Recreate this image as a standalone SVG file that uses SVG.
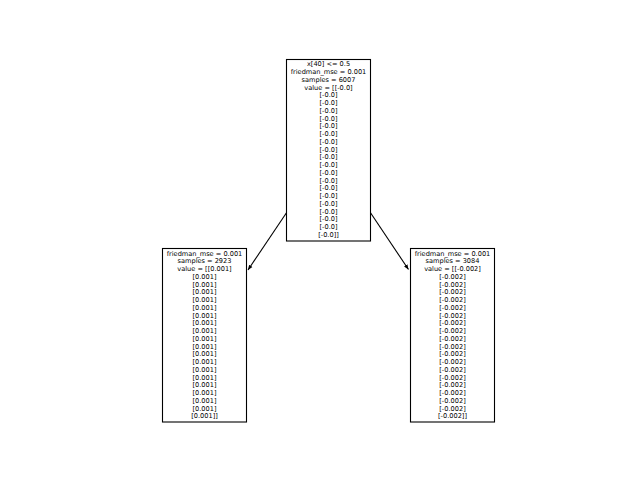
<svg xmlns="http://www.w3.org/2000/svg" width="640" height="480" viewBox="0 0 640 480">
<style>
.box{fill:#fff;stroke:#000;stroke-width:1.1}
.t{font-family:"DejaVu Sans",sans-serif;font-size:6.6px;fill:#000;text-anchor:middle;dominant-baseline:central}
.edge{stroke:#000;stroke-width:1.1;fill:none;marker-end:url(#ah)}
</style>
<defs>
<marker id="ah" viewBox="0 0 10 10" refX="10" refY="5" markerWidth="5" markerHeight="5" orient="auto" markerUnits="userSpaceOnUse">
<path d="M0,1 L10,5 L0,9 Z" fill="#000"/>
</marker>
</defs>
<rect width="640" height="480" fill="#fff"/>
<g id="connectors">
<line class="edge" x1="287" y1="212" x2="248" y2="270"/>
<line class="edge" x1="370" y1="212" x2="408.5" y2="269.5"/>
</g>
<g id="node0">
<rect class="box" x="286.5" y="59.5" width="84" height="181.5"/>
<text class="t" x="328.5" y="64.25">x[40] &lt;= 0.5</text>
<text class="t" x="328.5" y="72">friedman_mse = 0.001</text>
<text class="t" x="328.5" y="79.75">samples = 6007</text>
<text class="t" x="328.5" y="87.5">value = [[-0.0]</text>
<text class="t" x="328.5" y="95.25">[-0.0]</text>
<text class="t" x="328.5" y="103">[-0.0]</text>
<text class="t" x="328.5" y="110.75">[-0.0]</text>
<text class="t" x="328.5" y="118.5">[-0.0]</text>
<text class="t" x="328.5" y="126.25">[-0.0]</text>
<text class="t" x="328.5" y="134">[-0.0]</text>
<text class="t" x="328.5" y="141.75">[-0.0]</text>
<text class="t" x="328.5" y="149.5">[-0.0]</text>
<text class="t" x="328.5" y="157.25">[-0.0]</text>
<text class="t" x="328.5" y="165">[-0.0]</text>
<text class="t" x="328.5" y="172.75">[-0.0]</text>
<text class="t" x="328.5" y="180.5">[-0.0]</text>
<text class="t" x="328.5" y="188.25">[-0.0]</text>
<text class="t" x="328.5" y="196">[-0.0]</text>
<text class="t" x="328.5" y="203.75">[-0.0]</text>
<text class="t" x="328.5" y="211.5">[-0.0]</text>
<text class="t" x="328.5" y="219.25">[-0.0]</text>
<text class="t" x="328.5" y="227">[-0.0]</text>
<text class="t" x="328.5" y="234.75">[-0.0]]</text>
</g>
<g id="node1">
<rect class="box" x="162.5" y="248.5" width="84" height="173.5"/>
<text class="t" x="204.5" y="253.6">friedman_mse = 0.001</text>
<text class="t" x="204.5" y="261.35">samples = 2923</text>
<text class="t" x="204.5" y="269.1">value = [[0.001]</text>
<text class="t" x="204.5" y="276.85">[0.001]</text>
<text class="t" x="204.5" y="284.6">[0.001]</text>
<text class="t" x="204.5" y="292.35">[0.001]</text>
<text class="t" x="204.5" y="300.1">[0.001]</text>
<text class="t" x="204.5" y="307.85">[0.001]</text>
<text class="t" x="204.5" y="315.6">[0.001]</text>
<text class="t" x="204.5" y="323.35">[0.001]</text>
<text class="t" x="204.5" y="331.1">[0.001]</text>
<text class="t" x="204.5" y="338.85">[0.001]</text>
<text class="t" x="204.5" y="346.6">[0.001]</text>
<text class="t" x="204.5" y="354.35">[0.001]</text>
<text class="t" x="204.5" y="362.1">[0.001]</text>
<text class="t" x="204.5" y="369.85">[0.001]</text>
<text class="t" x="204.5" y="377.6">[0.001]</text>
<text class="t" x="204.5" y="385.35">[0.001]</text>
<text class="t" x="204.5" y="393.1">[0.001]</text>
<text class="t" x="204.5" y="400.85">[0.001]</text>
<text class="t" x="204.5" y="408.6">[0.001]</text>
<text class="t" x="204.5" y="416.35">[0.001]]</text>
</g>
<g id="node2">
<rect class="box" x="410.5" y="248.5" width="84" height="173.5"/>
<text class="t" x="452.5" y="253.6">friedman_mse = 0.001</text>
<text class="t" x="452.5" y="261.35">samples = 3084</text>
<text class="t" x="452.5" y="269.1">value = [[-0.002]</text>
<text class="t" x="452.5" y="276.85">[-0.002]</text>
<text class="t" x="452.5" y="284.6">[-0.002]</text>
<text class="t" x="452.5" y="292.35">[-0.002]</text>
<text class="t" x="452.5" y="300.1">[-0.002]</text>
<text class="t" x="452.5" y="307.85">[-0.002]</text>
<text class="t" x="452.5" y="315.6">[-0.002]</text>
<text class="t" x="452.5" y="323.35">[-0.002]</text>
<text class="t" x="452.5" y="331.1">[-0.002]</text>
<text class="t" x="452.5" y="338.85">[-0.002]</text>
<text class="t" x="452.5" y="346.6">[-0.002]</text>
<text class="t" x="452.5" y="354.35">[-0.002]</text>
<text class="t" x="452.5" y="362.1">[-0.002]</text>
<text class="t" x="452.5" y="369.85">[-0.002]</text>
<text class="t" x="452.5" y="377.6">[-0.002]</text>
<text class="t" x="452.5" y="385.35">[-0.002]</text>
<text class="t" x="452.5" y="393.1">[-0.002]</text>
<text class="t" x="452.5" y="400.85">[-0.002]</text>
<text class="t" x="452.5" y="408.6">[-0.002]</text>
<text class="t" x="452.5" y="416.35">[-0.002]]</text>
</g>
</svg>
